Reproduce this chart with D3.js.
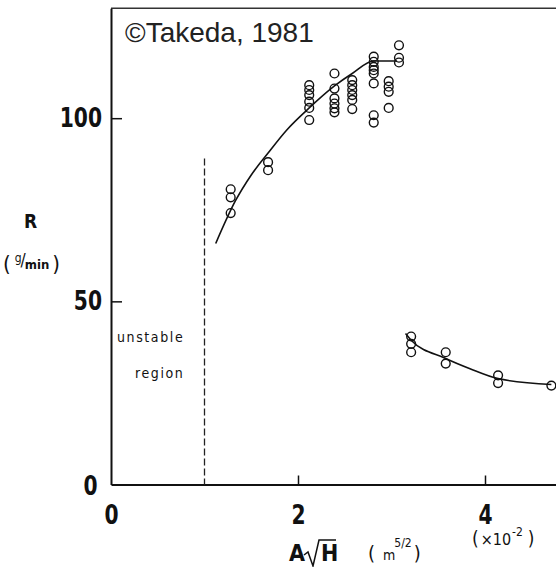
<!DOCTYPE html>
<html lang="en">
<head>
<meta charset="UTF-8">
<title>R vs A sqrt(H) - Takeda 1981</title>
<style>
  body { margin: 0; background: #fff; }
  svg { display: block; }
  .tick text { font-family: "DejaVu Sans Condensed", "DejaVu Sans", sans-serif; font-stretch: condensed; font-weight: bold; font-size: 25px; fill: #111; }
  .lbl { font-family: "DejaVu Sans Condensed", "DejaVu Sans", sans-serif; font-stretch: condensed; fill: #111; }
</style>
</head>
<body>
<svg id="chart" width="556" height="567"></svg>
<script src="https://cdn.jsdelivr.net/npm/d3@7"></script>
<script>
  // measured points, upper (stable) branch
  const stableX = [1.28, 1.28, 1.28, 1.68, 1.68,
    2.12, 2.12, 2.12, 2.12, 2.12, 2.12,
    2.39, 2.39, 2.39, 2.39, 2.39, 2.39,
    2.58, 2.58, 2.58, 2.58, 2.58, 2.58,
    2.81, 2.81, 2.81, 2.81, 2.81, 2.81, 2.81, 2.81,
    2.97, 2.97, 2.97, 2.97,
    3.08, 3.08, 3.08];
  const stableR = [80.6, 78.4, 74.1, 88.0, 85.8,
    109.0, 107.7, 106.3, 104.5, 102.8, 99.5,
    112.2, 108.1, 105.4, 104.0, 102.7, 101.6,
    110.4, 109.0, 107.7, 106.3, 105.0, 102.5,
    116.8, 115.4, 114.0, 113.1, 112.2, 109.5, 100.8, 98.8,
    110.1, 108.6, 107.2, 102.8,
    119.9, 116.5, 115.2];

  // lower branch
  const lowX = [3.21, 3.21, 3.21, 3.58, 3.58, 4.14, 4.14, 4.71];
  const lowR = [40.4, 38.4, 36.1, 36.1, 33.0, 29.8, 27.7, 27.0];

  // hand-drawn fit lines
  const fitUpX = [1.12, 1.33, 1.5, 1.68, 1.88, 2.12, 2.39, 2.58, 2.81, 3.06];
  const fitUpR = [65.8, 77.4, 84.5, 90.5, 96.8, 102.8, 108.8, 112.2, 115.6, 115.6];
  const fitLowX = [3.15, 3.21, 3.58, 3.84, 4.14, 4.71];
  const fitLowR = [41.2, 39.4, 34.4, 31.6, 28.9, 27.3];

  const unstableLimit = 1.0;
  const unstableTop = 89;

  const xTicks = [0, 2, 4];
  const yTicks = [0, 50, 100];

  const svg = d3.select('#chart');
  const x = d3.scaleLinear().domain([0, 4.85]).range([111, 111 + 4.85 * 93.5]);
  const y = d3.scaleLinear().domain([0, 130]).range([484.5, 8.3]);

  // frame top
  svg.append('line')
    .attr('x1', x(0)).attr('x2', x(4.85))
    .attr('y1', y(130)).attr('y2', y(130))
    .attr('stroke', '#333').attr('stroke-width', 1.6);

  const yAxis = svg.append('g')
    .attr('transform', `translate(${x(0)},0)`)
    .call(d3.axisLeft(y).tickValues(yTicks).tickSize(-11).tickSizeOuter(0).tickPadding(10).tickFormat(d3.format('d')));
  const xAxis = svg.append('g')
    .attr('transform', `translate(0,${y(0)})`)
    .call(d3.axisBottom(x).tickValues(xTicks).tickSize(-9).tickSizeOuter(0).tickPadding(20).tickFormat(d3.format('d')));
  svg.selectAll('.domain').attr('stroke', '#111').attr('stroke-width', 2);
  svg.selectAll('.tick line').attr('stroke', '#111').attr('stroke-width', 1.5);
  // narrower, taller digits like the typeset original
  svg.selectAll('.tick text').attr('transform', 'scale(0.9,1.04)');
  yAxis.selectAll('.tick').filter(d => d === 0).select('line').remove();
  xAxis.selectAll('.tick').filter(d => d === 0).select('line').remove();
  yAxis.selectAll('.tick').filter(d => d === 0).select('text').attr('dy', '0.4em').attr('x', -15);

  // unstable boundary
  svg.append('line')
    .attr('x1', x(unstableLimit)).attr('x2', x(unstableLimit))
    .attr('y1', y(unstableTop)).attr('y2', y(0))
    .attr('stroke', '#222').attr('stroke-width', 1.3)
    .attr('stroke-dasharray', '7,3');

  const line = d3.line().x(d => x(d[0])).y(d => y(d[1])).curve(d3.curveMonotoneX);
  svg.append('path')
    .datum(d3.zip(fitUpX, fitUpR))
    .attr('d', line).attr('fill', 'none').attr('stroke', '#111').attr('stroke-width', 1.6);
  svg.append('path')
    .datum(d3.zip(fitLowX, fitLowR))
    .attr('d', line).attr('fill', 'none').attr('stroke', '#111').attr('stroke-width', 1.6);

  const pts = d3.zip(stableX, stableR).concat(d3.zip(lowX, lowR));
  svg.append('g').selectAll('circle').data(pts).join('circle')
    .attr('cx', d => x(d[0])).attr('cy', d => y(d[1]))
    .attr('r', 4.4)
    .attr('fill', 'none').attr('stroke', '#111').attr('stroke-width', 1.4);

  // copyright
  svg.append('text')
    .attr('x', 125).attr('y', 42)
    .attr('font-family', '"Liberation Sans", Arial, sans-serif')
    .attr('font-size', 28).attr('fill', '#222')
    .text('©Takeda, 1981');

  // region labels
  svg.append('text').attr('class', 'lbl')
    .attr('x', 117).attr('y', 342).attr('font-size', 14).attr('letter-spacing', 1.6)
    .text('unstable');
  svg.append('text').attr('class', 'lbl')
    .attr('x', 135).attr('y', 378).attr('font-size', 14).attr('letter-spacing', 1.6)
    .text('region');

  // y label
  svg.append('text').attr('class', 'lbl')
    .attr('x', 30.5).attr('y', 228).attr('text-anchor', 'middle')
    .attr('font-size', 19).attr('font-weight', 'bold')
    .text('R');
  const unitY = svg.append('text').attr('class', 'lbl').attr('x', 3).attr('y', 271).attr('font-size', 22);
  unitY.append('tspan').text('(');
  unitY.append('tspan').attr('font-size', 12).attr('dy', -9).attr('dx', 4).text('g');
  unitY.append('tspan').attr('font-size', 17).attr('dy', 4).attr('dx', -1).text('/');
  unitY.append('tspan').attr('font-size', 13).attr('font-weight', 'bold').attr('dy', 3).attr('dx', -1).text('min');
  unitY.append('tspan').attr('dy', 2).attr('dx', 3).text(')');

  // x label: A sqrt(H)
  svg.append('text').attr('class', 'lbl')
    .attr('x', 289).attr('y', 561).attr('font-size', 23).attr('font-weight', 'bold')
    .text('A');
  svg.append('path')
    .attr('d', 'M304,555 L308,552 L313,566 L319,540 L336,540')
    .attr('fill', 'none').attr('stroke', '#111').attr('stroke-width', 1.5);
  svg.append('text').attr('class', 'lbl')
    .attr('x', 321).attr('y', 561).attr('font-size', 23).attr('font-weight', 'bold')
    .text('H');
  const unitX = svg.append('text').attr('class', 'lbl').attr('x', 368).attr('y', 560).attr('font-size', 20);
  unitX.append('tspan').text('(');
  unitX.append('tspan').attr('font-size', 14).attr('dx', 8).text('m');
  unitX.append('tspan').attr('font-size', 12).attr('dy', -13).attr('dx', -1).text('5/2');
  unitX.append('tspan').attr('dy', 13).attr('dx', 2).text(')');

  const scaleNote = svg.append('text').attr('class', 'lbl').attr('x', 472).attr('y', 545).attr('font-size', 19);
  scaleNote.append('tspan').text('(');
  scaleNote.append('tspan').attr('font-size', 16).attr('dx', 2).text('×10');
  scaleNote.append('tspan').attr('font-size', 12).attr('dy', -9).attr('dx', 1).text('-2');
  scaleNote.append('tspan').attr('dy', 9).attr('dx', 5).text(')');
</script>
</body>
</html>
